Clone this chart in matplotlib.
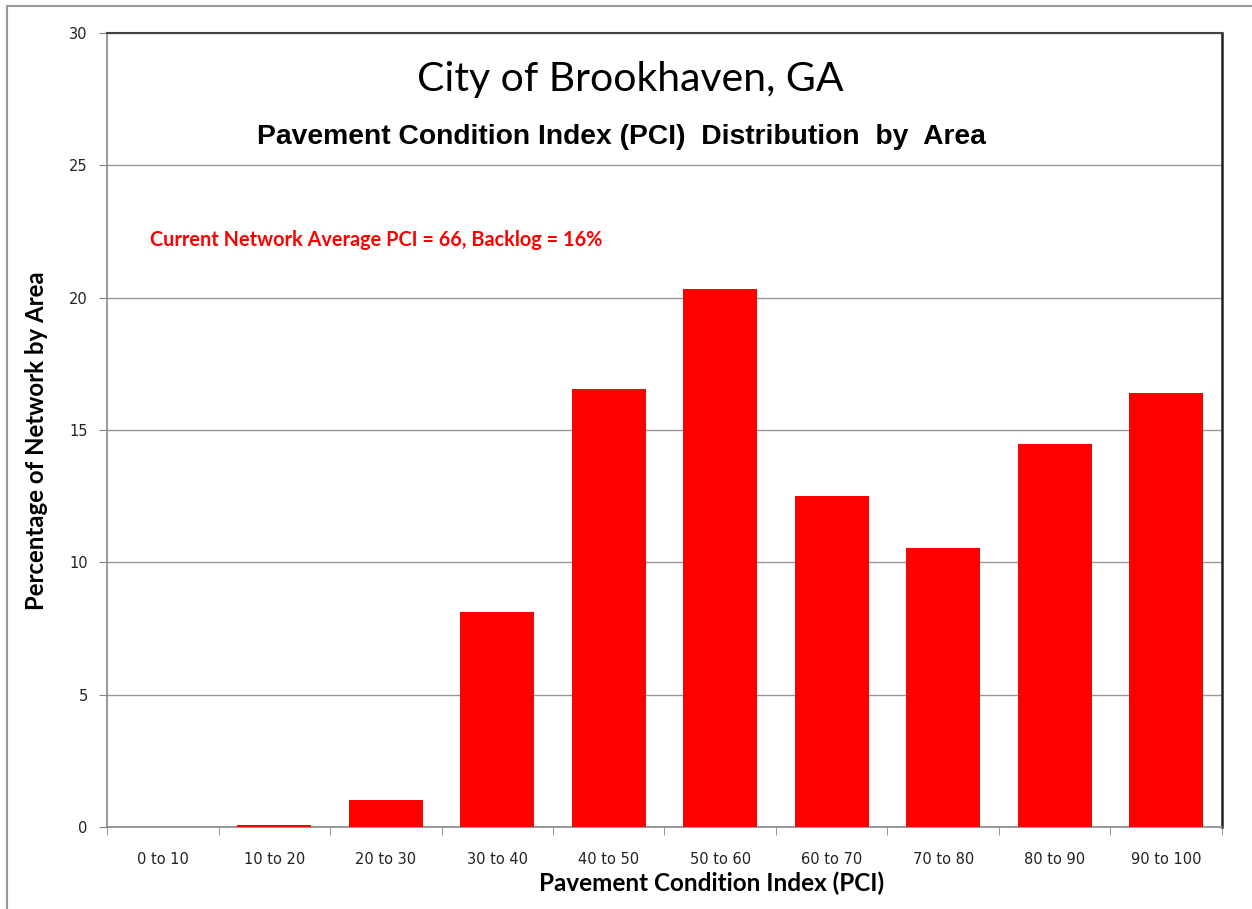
import numpy as np
import matplotlib.pyplot as plt
from matplotlib.patches import Rectangle

# 데이터
categories = ['0 to 10', '10 to 20', '20 to 30', '30 to 40', '40 to 50',
              '50 to 60', '60 to 70', '70 to 80', '80 to 90', '90 to 100']
pct_area = [0.0, 0.07, 1.02, 8.12, 16.55, 20.33, 12.5, 10.54, 14.47, 16.4]
y_ticks = [0, 5, 10, 15, 20, 25, 30]

fig = plt.figure(figsize=(12.52, 9.09), dpi=100)
ax = fig.add_axes([0.0855, 0.0902, 0.8905, 0.8735])

# 바깥 테두리
fig.patches.append(Rectangle((7 / 1252, -0.1), 1.2, 1 - 6 / 909 + 0.1,
                             transform=fig.transFigure, fill=False,
                             edgecolor='#999999', linewidth=1.5))

x = np.arange(len(categories))
ax.bar(x, pct_area, width=0.66, color='#ff0000', zorder=3)

ax.set_xlim(-0.5, len(categories) - 0.5)
ax.set_ylim(0, 30)
ax.set_yticks(y_ticks)
ax.set_yticklabels([str(v) for v in y_ticks], family='DejaVu Sans',
                   fontsize=10.5, color='#222222')
ax.set_xticks(x)
ax.set_xticklabels(categories, family='DejaVu Sans', fontsize=10.5,
                   color='#222222')
ax.set_xticks(np.arange(-0.5, len(categories)), minor=True)
ax.tick_params(axis='x', which='major', length=0, pad=18)
ax.tick_params(axis='x', which='minor', length=6, color='#888888')
ax.tick_params(axis='y', length=6, color='#888888', pad=8)

ax.grid(axis='y', color='#999999', linewidth=1, zorder=0)
for side in ['left', 'bottom']:
    ax.spines[side].set_color('#888888')
    ax.spines[side].set_linewidth(1.2)
ax.spines['top'].set_color('#444444')
ax.spines['top'].set_linewidth(1.5)
ax.spines['right'].set_color('#222222')
ax.spines['right'].set_linewidth(1.8)

fig.text(712 / 1252, 1 - 883 / 909, 'Pavement Condition Index (PCI)',
         family='Lato', fontweight='bold', fontsize=17.5,
         ha='center', va='center')
fig.text(37 / 1252, 1 - 441 / 909, 'Percentage of Network by Area',
         family='Lato', fontweight='bold', fontsize=17.3, rotation=90,
         ha='center', va='center')

fig.text(630 / 1252, 1 - 79 / 909, 'City of Brookhaven, GA', family='Lato',
         fontsize=29.5, ha='center', va='center')
fig.text(621 / 1252, 1 - 137 / 909,
         'Pavement Condition Index (PCI)  Distribution  by  Area',
         family='Liberation Sans', fontweight='bold', fontsize=20.3,
         ha='center', va='center')
fig.text(150 / 1252, 1 - 240 / 909,
         'Current Network Average PCI = 66, Backlog = 16%',
         family='Lato', fontweight='bold', fontsize=14.3, color='#ff0000',
         ha='left', va='center')

fig.savefig('out.png', dpi=100)
